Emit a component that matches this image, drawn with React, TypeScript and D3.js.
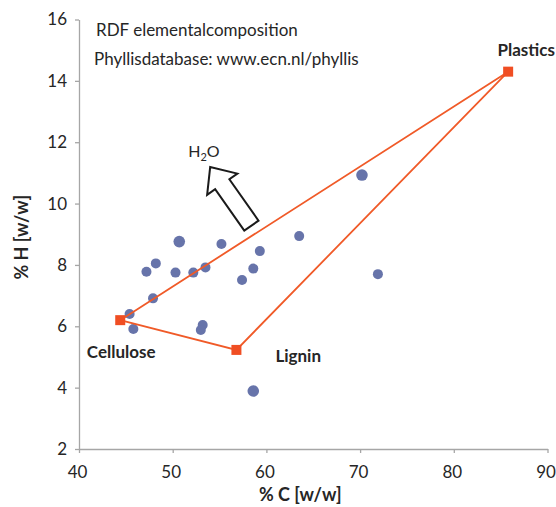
import React, { useRef, useEffect } from "react";
import * as d3 from "d3";

// % C and % H of the RDF samples (Phyllis database)
const carbon = [70.2, 71.9, 63.5, 59.3, 58.6, 57.4, 55.2, 50.7, 48.2, 47.2, 50.3, 52.2, 53.5, 47.9, 45.4, 45.8, 53.2, 53.0, 58.6];
const hydrogen = [10.93, 7.7, 8.94, 8.45, 7.88, 7.51, 8.68, 8.76, 8.05, 7.78, 7.75, 7.75, 7.92, 6.91, 6.4, 5.91, 6.04, 5.88, 3.89];
const bigPoint = [true, false, false, false, false, false, false, true, false, false, false, false, false, false, false, false, false, false, true];

// reference components
const refNames = ["Cellulose", "Lignin", "Plastics"];
const refC = [44.4, 56.8, 85.8];
const refH = [6.2, 5.23, 14.3];

const xTicks = [40, 50, 60, 70, 80, 90];
const yTicks = [2, 4, 6, 8, 10, 12, 14, 16];

// H2O arrow, from base to tip in data units
const arrowBase = [58.4, 9.28];
const arrowTip = [54.0, 11.19];

const FONT = "Lato, 'Open Sans', sans-serif";

function Chart() {
  const svgRef = useRef<SVGSVGElement>(null);

  useEffect(() => {
    const svg = d3.select(svgRef.current);
    svg.selectAll("*").remove();

    const margin = { top: 19.5, right: 8.5, bottom: 58, left: 79 };
    const width = 556 - margin.left - margin.right;
    const height = 507 - margin.top - margin.bottom;

    const x = d3.scaleLinear().domain([40, 90]).range([0, width]);
    const y = d3.scaleLinear().domain([2, 16]).range([height, 0]);

    const g = svg.append("g").attr("transform", `translate(${margin.left},${margin.top})`);

    // axes
    const xAxis = g
      .append("g")
      .attr("transform", `translate(0,${height})`)
      .call(d3.axisBottom(x).tickValues(xTicks).tickSize(4).tickSizeOuter(0).tickPadding(13));
    const yAxis = g
      .append("g")
      .call(d3.axisLeft(y).tickValues(yTicks).tickSize(4).tickSizeOuter(0).tickPadding(8));
    [xAxis, yAxis].forEach((a) => {
      a.selectAll("path,line").attr("stroke", "#a6a6a6").attr("stroke-width", 1.3);
      a.selectAll("text").attr("font-family", FONT).attr("font-size", 17).attr("fill", "#262626");
    });
    xAxis.selectAll("text").attr("dx", -2);

    // axis titles
    g.append("text")
      .attr("x", width / 2 - 13)
      .attr("y", height + 52)
      .attr("text-anchor", "middle")
      .attr("font-family", FONT)
      .attr("font-weight", "bold")
      .attr("font-size", 18)
      .attr("fill", "#262626")
      .text("% C [w/w]");
    g.append("text")
      .attr("transform", `translate(${-51},${height / 2 + 3}) rotate(-90)`)
      .attr("text-anchor", "middle")
      .attr("font-family", FONT)
      .attr("font-weight", "bold")
      .attr("font-size", 18)
      .attr("fill", "#262626")
      .text("% H [w/w]");

    // notes
    g.append("text")
      .attr("x", 17)
      .attr("y", 16)
      .attr("font-family", FONT)
      .attr("font-size", 17)
      .attr("fill", "#262626")
      .text("RDF elementalcomposition");
    g.append("text")
      .attr("x", 15)
      .attr("y", 45)
      .attr("font-family", FONT)
      .attr("font-size", 17)
      .attr("fill", "#262626")
      .text("Phyllisdatabase: www.ecn.nl/phyllis");

    // samples
    g.selectAll("circle.pt")
      .data(carbon.map((c, i) => ({ c, h: hydrogen[i], big: bigPoint[i] })))
      .enter()
      .append("circle")
      .attr("class", "pt")
      .attr("cx", (d) => x(d.c))
      .attr("cy", (d) => y(d.h))
      .attr("r", (d) => (d.big ? 5.8 : 5))
      .attr("fill", "#6774aa");

    // triangle of reference components
    const tri = refC.map((c, i) => [x(c), y(refH[i])] as [number, number]);
    g.append("path")
      .attr("d", d3.line()([tri[0], tri[2], tri[1]]) + "Z")
      .attr("fill", "none")
      .attr("stroke", "#f05a28")
      .attr("stroke-width", 1.8);
    g.selectAll("rect.ref")
      .data(tri)
      .enter()
      .append("rect")
      .attr("class", "ref")
      .attr("x", (d) => d[0] - 5)
      .attr("y", (d) => d[1] - 5)
      .attr("width", 10)
      .attr("height", 10)
      .attr("fill", "#f04e23");

    // label offsets from each vertex, and text anchor
    const labelOffsets = [
      [1, 38, "middle"],
      [39, 12, "start"],
      [18, -16, "middle"],
    ];
    g.selectAll("text.ref")
      .data(refNames)
      .enter()
      .append("text")
      .attr("class", "ref")
      .attr("x", (d, i) => tri[i][0] + (labelOffsets[i][0] as number))
      .attr("y", (d, i) => tri[i][1] + (labelOffsets[i][1] as number))
      .attr("text-anchor", (d, i) => labelOffsets[i][2] as string)
      .attr("font-family", FONT)
      .attr("font-weight", "bold")
      .attr("font-size", 17)
      .attr("fill", "#262626")
      .text((d) => d);

    // H2O arrow (outlined block arrow)
    const bx = x(arrowBase[0]), by = y(arrowBase[1]);
    const tx = x(arrowTip[0]), ty = y(arrowTip[1]);
    const len = Math.hypot(tx - bx, ty - by);
    const ux = (tx - bx) / len, uy = (ty - by) / len;
    const nx = -uy, ny = ux;
    const shaftW = 8.7, headW = 18.5, headL = 21;
    const pt = (along: number, side: number): [number, number] => [
      bx + ux * along + nx * side,
      by + uy * along + ny * side,
    ];
    const arrowPts = [
      pt(0, -shaftW),
      pt(len - headL, -shaftW),
      pt(len - headL, -headW),
      pt(len, 0),
      pt(len - headL, headW),
      pt(len - headL, shaftW),
      pt(0, shaftW),
    ];
    g.append("path")
      .attr("d", d3.line()(arrowPts) + "Z")
      .attr("fill", "white")
      .attr("stroke", "#1a1a1a")
      .attr("stroke-width", 2)
      .attr("stroke-linejoin", "miter");

    const h2o = g
      .append("text")
      .attr("x", tx - 22)
      .attr("y", ty - 10)
      .attr("font-family", FONT)
      .attr("font-size", 16)
      .attr("fill", "#262626");
    h2o.append("tspan").text("H");
    h2o.append("tspan").attr("dy", 4).attr("font-size", 11).text("2");
    h2o.append("tspan").attr("dy", -4).text("O");
  }, []);

  return (
    <svg
      ref={svgRef}
      width={556}
      height={507}
      style={{ position: "absolute", left: 0, top: 0, background: "white" }}
    />
  );
}

export default function App() {
  return <Chart />;
}
